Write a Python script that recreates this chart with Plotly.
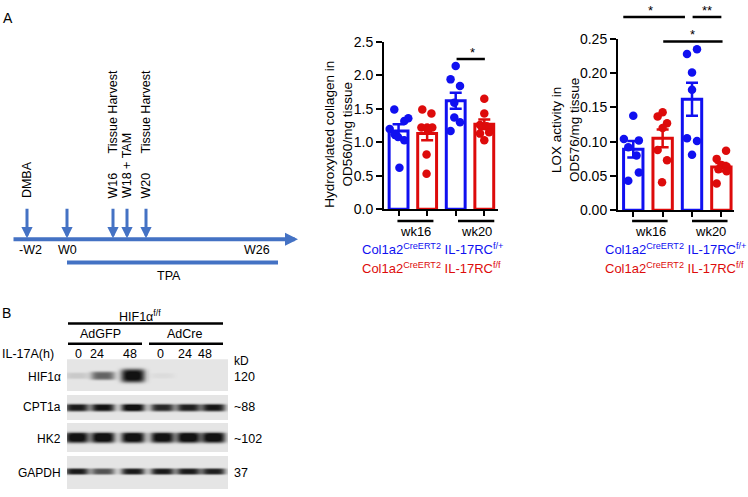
import numpy as np
import plotly.graph_objects as go

W, H = 748, 497
def X(px): return px / W
def Y(py): return 1 - py / H

BLUE = '#1010F0'
RED = '#DD0B0B'
TL = '#4472C4'
FONT = 'Liberation Sans, Arial, sans-serif'

# ---------------- data ----------------
groups = ['wk16', 'wk20']
genotypes = ['Col1a2<sup>CreERT2</sup> IL-17RC<sup>f/+</sup>',
             'Col1a2<sup>CreERT2</sup> IL-17RC<sup>f/f</sup>']
bar_colors = [BLUE, RED, BLUE, RED]

# Hydroxylated collagen (OD560/mg tissue)
col_mean = [1.17, 1.13, 1.62, 1.27]
col_sem = [0.10, 0.10, 0.12, 0.07]
col_b16 = [1.49, 1.36, 1.32, 1.20, 1.12, 1.08, 1.03, 0.62]
col_b16_dx = [-0.15, 0.34, 0.20, -0.31, -0.14, -0.02, 0.20, 0.03]
col_r16 = [1.49, 1.43, 1.22, 1.22, 1.22, 1.18, 0.82, 0.53]
col_r16_dx = [-0.17, 0.15, -0.20, 0.0, 0.18, 0.03, -0.02, -0.02]
col_b20 = [2.14, 1.94, 1.84, 1.59, 1.37, 1.30, 1.17]
col_b20_dx = [0.0, -0.18, 0.15, -0.05, -0.05, 0.15, -0.18]
col_r20 = [1.65, 1.43, 1.26, 1.24, 1.22, 1.15, 1.13, 1.03]
col_r20_dx = [0.0, 0.0, -0.15, 0.08, 0.20, 0.17, -0.15, 0.0]

# LOX activity (OD576/mg tissue)
lox_mean = [0.089, 0.105, 0.162, 0.063]
lox_sem = [0.012, 0.013, 0.024, 0.006]
lox_b16 = [0.138, 0.104, 0.102, 0.092, 0.080, 0.055, 0.043]
lox_b16_dx = [0.0, -0.32, 0.19, -0.17, 0.11, 0.19, -0.17]
lox_r16 = [0.143, 0.137, 0.127, 0.120, 0.088, 0.073, 0.041]
lox_r16_dx = [0.0, -0.17, 0.15, 0.0, -0.17, 0.15, -0.02]
lox_b20 = [0.235, 0.228, 0.201, 0.176, 0.105, 0.101, 0.081]
lox_b20_dx = [0.17, -0.17, 0.0, 0.0, -0.17, 0.17, 0.0]
lox_r20 = [0.087, 0.075, 0.066, 0.064, 0.060, 0.057, 0.039]
lox_r20_dx = [0.16, -0.16, 0.0, 0.18, -0.10, 0.18, -0.16]

# Timeline schematic
tl_events = ['DMBA', 'W16', 'W18 + TAM', 'W20']
tl_harvest = ['', 'Tissue Harvest', '', 'Tissue Harvest']
tl_ticks = ['-W2', 'W0', 'W26']

# Western blot
blot_rows = ['HIF1α', 'CPT1a', 'HK2', 'GAPDH']
blot_kd = ['120', '~88', '~102', '37']
lanes = ['0', '24', '48', '0', '24', '48']
band_hif1a = [0.12, 0.55, 0.95, 0.04, 0.0, 0.0]
band_cpt1a = [0.86, 0.90, 0.97, 0.80, 0.84, 0.88]
band_hk2 = [0.96, 0.99, 0.98, 0.96, 0.99, 0.98]
band_gapdh = [0.86, 0.62, 0.86, 0.86, 0.86, 0.84]

fig = go.Figure()

# ---------------- bar charts ----------------
def add_panel(xa, ya, means, sems, pts, dxs):
    for i, (m, s, c) in enumerate(zip(means, sems, bar_colors)):
        fig.add_trace(go.Bar(x=[i], y=[m], width=0.66, xaxis=xa, yaxis=ya,
                             marker=dict(color='rgba(255,255,255,0)', line=dict(color=c, width=3)),
                             error_y=dict(type='data', array=[s], color=c, thickness=2.5, width=6),
                             hoverinfo='skip'))
    for i, (p, d, c) in enumerate(zip(pts, dxs, bar_colors)):
        fig.add_trace(go.Scatter(x=[i + v for v in d], y=p, mode='markers', xaxis=xa, yaxis=ya,
                                 marker=dict(size=8.5, color=c), hoverinfo='skip', cliponaxis=False))

add_panel('x', 'y', col_mean, col_sem, [col_b16, col_r16, col_b20, col_r20],
          [col_b16_dx, col_r16_dx, col_b20_dx, col_r20_dx])
add_panel('x2', 'y2', lox_mean, lox_sem, [lox_b16, lox_r16, lox_b20, lox_r20],
          [lox_b16_dx, lox_r16_dx, lox_b20_dx, lox_r20_dx])

# ---------------- western blot heatmap ----------------
xs = np.arange(67, 228.01, 0.5)
ys = np.arange(363, 497.01, 0.5)
XX, YY = np.meshgrid(xs, ys)
Z = np.full(XX.shape, np.nan)
panels = [(363, 396, 380, [3.5, 4.5, 7.0, 3, 3, 3]),
          (400, 426, 413, [4.0] * 6),
          (429, 459, 444, [5.5] * 6),
          (463, 497, 479, [3.2] * 6)]
lane_x = [77, 103, 133, 162, 188, 213]
for (y0, y1, cy, hh), bands in zip(panels, [band_hif1a, band_cpt1a, band_hk2, band_gapdh]):
    mask = (YY >= y0) & (YY <= y1)
    zz = np.full(XX.shape, 0.11)
    for cx, a, h in zip(lane_x, bands, hh):
        zz += a * np.exp(-((XX - cx) / 12.0) ** 4) * np.exp(-((YY - cy) / h) ** 4)
    Z[mask] = np.clip(zz[mask], 0, 1)
fig.add_trace(go.Heatmap(x=xs, y=ys, z=Z, xaxis='x4', yaxis='y4', zmin=0, zmax=1,
                         colorscale=[[0, '#ffffff'], [1, '#121212']], showscale=False,
                         hoverinfo='skip'))

# ---------------- layout ----------------
ax_common = dict(showline=True, linewidth=2, linecolor='black', showgrid=False, zeroline=False,
                 ticks='outside', tickwidth=2, tickcolor='black', fixedrange=True,
                 tickfont=dict(family=FONT, size=14, color='black'))
fig.update_layout(
    width=W, height=H, margin=dict(l=0, r=0, t=0, b=0),
    paper_bgcolor='white', plot_bgcolor='rgba(0,0,0,0)', showlegend=False, barmode='overlay',
    font=dict(family=FONT, color='black'),
    xaxis=dict(domain=[X(384), X(498)], range=[-0.51, 3.48], tickvals=[0, 1, 2, 3],
               showticklabels=False, ticklen=5, anchor='y', **ax_common),
    yaxis=dict(domain=[Y(208), Y(35)], range=[0, 2.5], dtick=0.5, tickformat='.1f',
               ticklen=6, anchor='x', **ax_common),
    xaxis2=dict(domain=[X(618), X(734)], range=[-0.52, 3.43], tickvals=[0, 1, 2, 3],
                showticklabels=False, ticklen=5, anchor='y2', **ax_common),
    yaxis2=dict(domain=[Y(209), Y(32)], range=[0, 0.25], dtick=0.05, tickformat='.2f',
                ticklen=6, anchor='x2', **ax_common),
    xaxis4=dict(domain=[X(67), X(228)], range=[67, 228], visible=False, anchor='y4', fixedrange=True),
    yaxis4=dict(domain=[Y(497), Y(363)], range=[497, 363], visible=False, anchor='x4', fixedrange=True),
)

shapes = []
ann = []

def txt(text, x, y, size=13, xa='center', ya='middle', color='black', angle=0):
    ann.append(dict(text=text, x=X(x), y=Y(y), xref='paper', yref='paper', showarrow=False,
                    xanchor=xa, yanchor=ya, textangle=angle,
                    font=dict(family=FONT, size=size, color=color)))

def hline(x0, x1, y, w=2.5, color='black'):
    shapes.append(dict(type='line', xref='paper', yref='paper', x0=X(x0), x1=X(x1), y0=Y(y), y1=Y(y),
                       line=dict(color=color, width=w)))

# group lines/labels under bar charts
for xa, spans, cx in [('x', [(-0.04, 1.22), (2.08, 3.35)], [415, 476]),
                      ('x2', [(-0.04, 1.17), (2.0, 3.21)], [650, 710])]:
    for (a, b), g, c in zip(spans, groups, cx):
        shapes.append(dict(type='line', xref=xa, yref='paper', x0=a, x1=b, y0=Y(220), y1=Y(220),
                           line=dict(color='black', width=2.5)))
        txt(g, c, 231, size=13)

# genotype legends
txt(genotypes[0], 432, 249, size=13, color=BLUE)
txt(genotypes[1], 431, 269, size=13, color=RED)
txt(genotypes[0], 675, 249, size=13, color=BLUE)
txt(genotypes[1], 674, 269, size=13, color=RED)

# y-axis titles
txt('Hydroxylated collagen in<br>OD560/mg tissue', 339, 131, size=13.5, angle=-90)
txt('LOX activity in<br>OD576/mg tissue', 566, 126, size=13.5, angle=-90)

# significance
sig = [('x', 2.03, 3.02, 52.7, '*', 472), ('x2', -0.34, 1.76, 9.3, '*', 650),
       ('x2', 2.02, 3.0, 9.3, '**', 707), ('x2', 1.02, 3.04, 34.7, '*', 692)]
for xa, a, b, y, s, cx in sig:
    shapes.append(dict(type='line', xref=xa, yref='paper', x0=a, x1=b, y0=Y(y), y1=Y(y),
                       line=dict(color='black', width=2.5)))
    txt(s, cx, y + 3, size=13, ya='bottom')

# panel letters
txt('A', 1, 0, size=14, xa='left', ya='top')
txt('B', 0, 315, size=14, xa='left')

# ---------------- timeline ----------------
ann.append(dict(x=X(298), y=Y(239), xref='paper', yref='paper', ax=-286, ay=0, text='',
                showarrow=True, arrowhead=2, arrowsize=0.65, arrowwidth=4, arrowcolor=TL))
ev_x = [27, 113, 127, 146]
arrow_x = [27, 67, 113, 127, 146]
for ax_ in arrow_x:
    ann.append(dict(x=X(ax_), y=Y(238), xref='paper', yref='paper', ax=0, ay=-31, text='',
                    showarrow=True, arrowhead=2, arrowsize=0.75, arrowwidth=3, arrowcolor=TL))
for e, h_, x in zip(tl_events, tl_harvest, ev_x):
    txt(e, x, 199, size=12.5, ya='bottom', angle=-90)
    if h_:
        txt(h_, x, 63, size=12.5, ya='top', angle=-90)
for t, x in zip(tl_ticks, [30, 67, 257]):
    txt(t, x, 250, size=12.5)
hline(67, 278, 263, w=4, color=TL)
txt('TPA', 169, 277, size=12.5)

# ---------------- blot labels ----------------
txt('HIF1α<sup>f/f</sup>', 140, 318, size=12.5)
hline(68, 223, 326, w=2.5)
txt('AdGFP', 100, 337, size=12.5)
txt('AdCre', 184, 337, size=12.5)
hline(68, 142, 347, w=2.5)
hline(149, 223, 347, w=2.5)
txt('IL-17A(h)', 0, 357, size=12.5, xa='left')
for l, x in zip(lanes, [78, 97, 130, 160, 185, 205]):
    txt(l, x, 357, size=12.5)
txt('kD', 232, 365, size=12, xa='left')
for r, k, y in zip(blot_rows, blot_kd, [381, 412, 445, 480]):
    txt(r, 63, y, size=12, xa='right')
    txt(k, 232, y, size=12.5, xa='left')

fig.update_layout(shapes=shapes, annotations=ann)
fig.write_html('out.html', config={'displayModeBar': False},
               post_script="document.body.style.margin='0px';document.body.style.overflow='hidden';")
